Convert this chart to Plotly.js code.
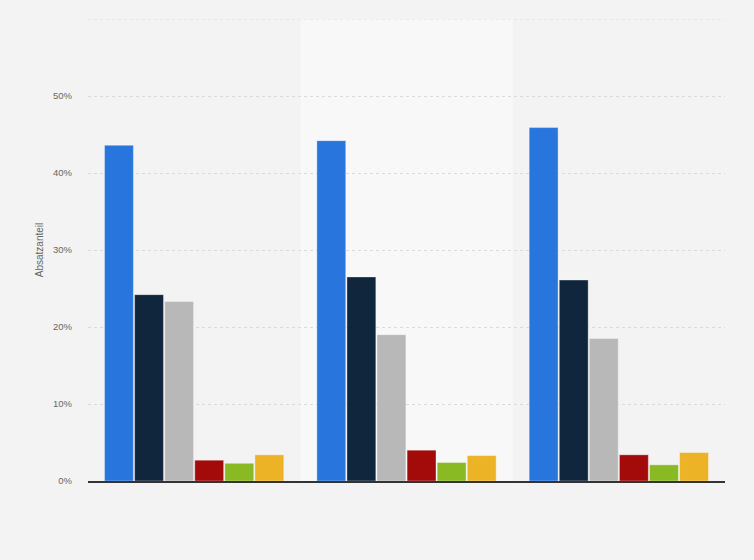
<!DOCTYPE html>
<html>
<head>
<meta charset="utf-8">
<script src="https://cdn.plot.ly/plotly-3.0.1.min.js"></script>
<style>
  html, body { margin: 0; padding: 0; background: #f3f3f3; }
  #chart { width: 754px; height: 560px; }
</style>
</head>
<body>
<div id="chart"></div>
<script>
// Data (in %)
var categories = ['Gruppe 1', 'Gruppe 2', 'Gruppe 3'];
var series_names = ['Serie 1', 'Serie 2', 'Serie 3', 'Serie 4', 'Serie 5', 'Serie 6'];
var serie1 = [43.6, 44.2, 45.9];
var serie2 = [24.2, 26.5, 26.1];
var serie3 = [23.3, 19.0, 18.5];
var serie4 = [2.7, 4.0, 3.4];
var serie5 = [2.3, 2.4, 2.1];
var serie6 = [3.4, 3.3, 3.7];
var y_ticks = [0, 10, 20, 30, 40, 50, 60];
var y_labels = ['0%', '10%', '20%', '30%', '40%', '50%', ''];

var colors = ['#2876dd', '#10263c', '#b8b8b8', '#a30a0a', '#89ba23', '#ebb325'];
var values = [serie1, serie2, serie3, serie4, serie5, serie6];

function create_trace(i) {
    return {
        x: categories,
        y: values[i],
        type: 'bar',
        name: series_names[i],
        marker: {
            color: colors[i],
            line: { color: 'rgba(255,255,255,0.35)', width: 1 }
        },
        hoverinfo: 'y+name'
    };
}

var data = [];
for (var i = 0; i < values.length; i++) {
    data.push(create_trace(i));
}

var layout = {
    width: 754,
    height: 560,
    margin: { l: 88, r: 29, t: 19, b: 79 },
    paper_bgcolor: '#f3f3f3',
    plot_bgcolor: '#f3f3f3',
    showlegend: false,
    barmode: 'group',
    bargap: 0.15,
    bargroupgap: 0.04,
    font: { family: 'Arial, Liberation Sans, sans-serif', color: '#666666' },
    xaxis: {
        showticklabels: false,
        ticks: '',
        showgrid: false,
        showline: true,
        linecolor: '#333333',
        linewidth: 1.5,
        zeroline: false
    },
    yaxis: {
        title: { text: 'Absatzanteil', font: { size: 10, color: '#666666' }, standoff: 7 },
        range: [0, 60],
        tickvals: y_ticks,
        ticktext: y_labels,
        tickfont: { size: 9.5, color: '#666666' },
        ticks: '',
        ticklabelstandoff: 15,
        showgrid: true,
        gridcolor: '#dadada',
        griddash: 'dot',
        gridwidth: 1,
        zeroline: false,
        showline: false
    },
    shapes: [{
        type: 'rect',
        xref: 'x',
        yref: 'paper',
        x0: 0.5, x1: 1.5,
        y0: 0, y1: 1,
        fillcolor: '#f8f8f8',
        line: { width: 0 },
        layer: 'below'
    }, {
        // top gridline at the edge of the range
        type: 'line',
        xref: 'paper',
        yref: 'y',
        x0: 0, x1: 1,
        y0: y_ticks[y_ticks.length - 1], y1: y_ticks[y_ticks.length - 1],
        line: { color: '#dadada', width: 1, dash: 'dot' },
        layer: 'below'
    }]
};

Plotly.newPlot(document.getElementById('chart'), data, layout, { displayModeBar: false });
</script>
</body>
</html>
